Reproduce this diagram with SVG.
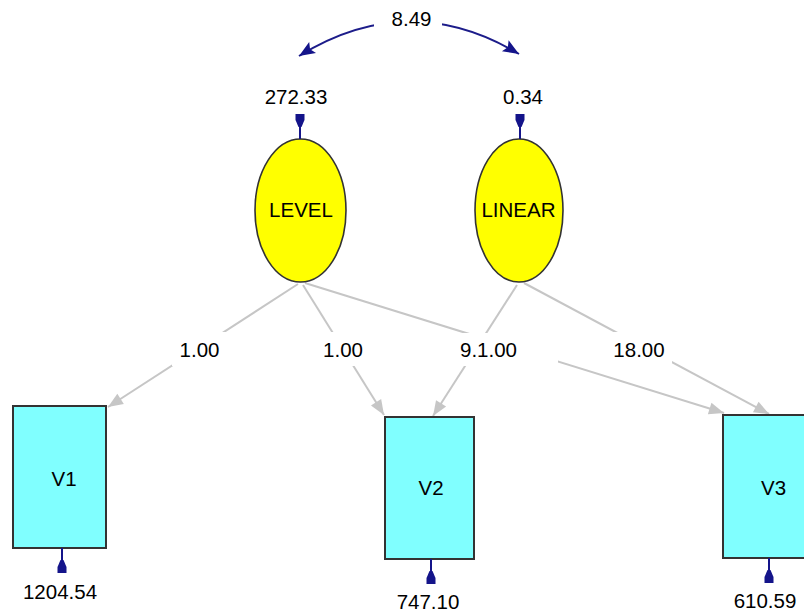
<svg xmlns="http://www.w3.org/2000/svg" xmlns:xlink="http://www.w3.org/1999/xlink" width="804" height="613" viewBox="0 0 804 613">
<style>
text{font-family:"Liberation Sans",Arial,sans-serif;font-size:20.5px;fill:#000;text-anchor:middle}
.path{stroke:#c6c6c6;stroke-width:2;fill:none;marker-end:url(#ga)}
.lat{fill:#ffff00;stroke:#333;stroke-width:1.6}
.obs{fill:#80ffff;stroke:#333;stroke-width:2}
.bg{fill:#fff}
.cov{stroke:#1c1c8a;stroke-width:2;fill:none;marker-start:url(#na);marker-end:url(#na)}
</style>
<defs>
<marker id="ga" markerUnits="userSpaceOnUse" viewBox="-16 -7 17 14" markerWidth="17" markerHeight="14" refX="0" refY="0" orient="auto">
<path d="M0,0 L-15,-6 L-15,6 Z" fill="#c6c6c6"/>
</marker>
<marker id="na" markerUnits="userSpaceOnUse" viewBox="-18 -8 19 16" markerWidth="19" markerHeight="16" refX="0" refY="0" orient="auto-start-reverse">
<path d="M0,0 L-16,-6.5 L-13,0 L-16,6.5 Z" fill="#14148a"/>
</marker>
<g id="pin">
<line x1="0" y1="0" x2="0" y2="-13" stroke="#14148a" stroke-width="2"/>
<path d="M-1.5,-12 L1.5,-12 L4.5,-19 L4.5,-25 L-4.5,-25 L-4.5,-19 Z" fill="#14148a"/>
</g>
</defs>
<g id="connectors">
<line class="path" x1="298" y1="284" x2="108" y2="407"/>
<line class="path" x1="303" y1="285" x2="384" y2="415"/>
<line class="path" x1="305" y1="283" x2="724" y2="413"/>
<line class="path" x1="517" y1="285" x2="433" y2="416"/>
<line class="path" x1="524" y1="283" x2="769" y2="414"/>
<path class="cov" d="M299,56 Q409,-12 519,54"/>
</g>
<g id="labels">
<rect class="bg" x="374" y="4" width="68" height="32"/>
<text x="411.5" y="26">8.49</text>
<rect class="bg" x="172" y="332" width="56" height="34"/>
<text x="199.5" y="357">1.00</text>
<rect class="bg" x="318" y="332" width="50" height="34"/>
<text x="343" y="357">1.00</text>
<rect class="bg" x="455" y="333" width="103" height="33"/>
<text x="488.5" y="357">9.1.00</text>
<rect class="bg" x="605" y="332" width="67" height="35"/>
<text x="639" y="357">18.00</text>
</g>
<g id="LEVEL">
<ellipse class="lat" cx="300.5" cy="210.5" rx="45.5" ry="71.5"/>
<text x="301" y="217">LEVEL</text>
<use xlink:href="#pin" transform="translate(300,139)"/>
<text x="296" y="104">272.33</text>
</g>
<g id="LINEAR">
<ellipse class="lat" cx="519" cy="210.5" rx="44" ry="71.5"/>
<text x="518.5" y="217">LINEAR</text>
<use xlink:href="#pin" transform="translate(520,139)"/>
<text x="523" y="104">0.34</text>
</g>
<g id="V1">
<rect class="obs" x="13" y="406" width="93" height="142"/>
<text x="64" y="486">V1</text>
<use xlink:href="#pin" transform="translate(62,548) rotate(180)"/>
<text x="60" y="599">1204.54</text>
</g>
<g id="V2">
<rect class="obs" x="385" y="417" width="89" height="142"/>
<text x="431" y="495">V2</text>
<use xlink:href="#pin" transform="translate(431,559) rotate(180)"/>
<text x="428" y="609">747.10</text>
</g>
<g id="V3">
<rect class="obs" x="723" y="415" width="93" height="143"/>
<text x="773.5" y="495">V3</text>
<use xlink:href="#pin" transform="translate(769,558) rotate(180)"/>
<text x="765" y="608">610.59</text>
</g>
</svg>
